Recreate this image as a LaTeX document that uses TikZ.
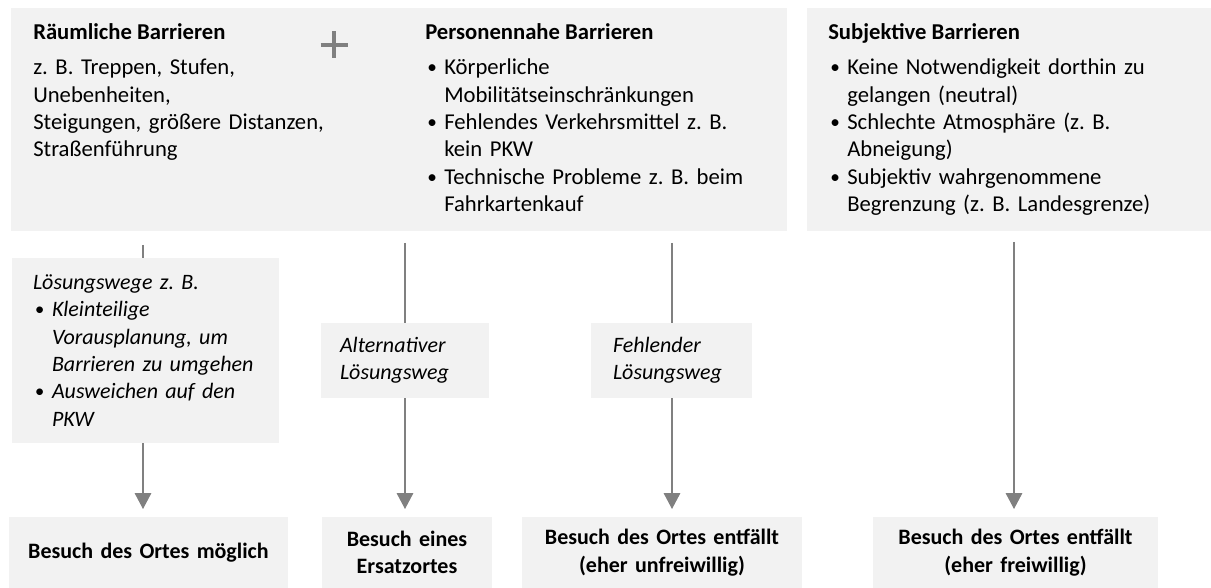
\documentclass[tikz,border=0pt]{standalone}
\usepackage{fontspec}
\setmainfont{Carlito}
\usetikzlibrary{positioning,arrows.meta}
\definecolor{feldgrau}{RGB}{242,242,242}
\definecolor{strichgrau}{RGB}{128,128,128}
\frenchspacing
\newlength{\pkteinzug}
\newlength{\pktabstand}
\setlength{\pkteinzug}{1.5pt}
\setlength{\pktabstand}{12.75pt}
\newcommand{\punkt}[1]{\noindent\hangindent=\dimexpr\pkteinzug+\pktabstand\relax\hangafter=1
  \hspace*{\pkteinzug}\makebox[\pktabstand][l]{\raisebox{0.1ex}{\scalebox{0.85}{\textbullet}}}#1\par}

\begin{document}
\begin{tikzpicture}[x=0.75pt,y=-0.75pt,font=\fontsize{17pt}{20.5pt}\selectfont]
    \tikzset{feld/.style={fill=feldgrau,inner sep=0pt,outer sep=0pt},
      titel/.style={anchor=base west,inner sep=0pt,font=\fontsize{17pt}{20.5pt}\selectfont\bfseries},
      liste/.style={anchor=base west,inner sep=0pt,text width=#1,align=left},
      weg/.style={feld,inner ysep=0pt,text width=#1,align=left,font=\fontsize{16.5pt}{20.5pt}\selectfont\itshape},
      ziel/.style={feld,minimum height=53.25pt,text width=#1,align=center,font=\fontsize{16.5pt}{20.5pt}\selectfont\bfseries},
      linie/.style={draw=strichgrau,line width=0.9pt},
      pfeil/.style={linie,-{Triangle[length=12pt,width=12.5pt]},shorten >=6pt},
      plus/.style={minimum size=20.25pt,inner sep=0pt,outer sep=0pt},
      plusstrich/.style={draw=strichgrau,line width=3pt}}
    \useasboundingbox (0,0) rectangle (1211,588);
    % Barrieren oben
    \node[feld,anchor=north west,minimum width=582pt,minimum height=167.25pt] (links) at (11,8) {};
    \node[feld,anchor=north west,minimum width=303pt,minimum height=167.25pt] (rechts) at (807,8) {};
    \node[titel] (raeum) at (33,40) {Räumliche Barrieren};
    \node[liste=255pt] (raeumtext) at (33,75) {z.~B. Treppen, Stufen,\newline
      Unebenheiten,\newline Steigungen, größere Distanzen,\newline Straßenführung};
    \node[plus] (plus) at (334,45) {};
    \draw[plusstrich] (plus.north) -- (plus.south) (plus.west) -- (plus.east);
    \node[titel] (person) at (425,40) {Personennahe Barrieren};
    \node[liste=255pt] (persontext) at (425,75) {%
      \punkt{Körperliche\newline Mobilitätseinschränkungen}%
      \punkt{Fehlendes Verkehrsmittel z.~B.\newline kein PKW}%
      \punkt{Technische Probleme z.~B. beim\newline Fahrkartenkauf}};
    \node[titel] (subj) at (828,40) {Subjektive Barrieren};
    \node[liste=270pt] (subjtext) at (828,75) {%
      \punkt{Keine Notwendigkeit dorthin zu\newline gelangen (neutral)}%
      \punkt{Schlechte Atmosphäre (z.~B.\newline Abneigung)}%
      \punkt{Subjektiv wahrgenommene\newline Begrenzung (z.~B. Landesgrenze)}};
    % Loesungswege
    \node[weg=168.75pt,inner xsep=15.75pt,minimum height=138.75pt,anchor=north west] (loes) at (12,258)
      {Lösungswege z.~B.\par
      \punkt{Kleinteilige\newline Vorausplanung, um\newline Barrieren zu umgehen}%
      \punkt{Ausweichen auf den\newline PKW}};
    \node[weg=97.5pt,inner xsep=14.25pt,minimum height=56.25pt] (alt) at (405,360.5) {Alternativer\\Lösungsweg};
    \node[weg=87.75pt,inner xsep=16.5pt,minimum height=56.25pt] (fehl) at (671.5,360.5) {Fehlender\\Lösungsweg};
    % Ergebnis
    \node[ziel=209.25pt] (ziel1) at (148.5,552.5) {Besuch des Ortes möglich};
    \node[ziel=127.5pt] (ziel2) at (407,552.5) {Besuch eines\\Ersatzortes};
    \node[ziel=210pt] (ziel3) at (662,552.5) {Besuch des Ortes entfällt\\(eher unfreiwillig)};
    \node[ziel=213.75pt] (ziel4) at (1015.5,552.5) {Besuch des Ortes entfällt\\(eher freiwillig)};
    \coordinate (s1) at (143,245);
    \coordinate (s2) at (405,243);
    \coordinate (s3) at (672,243);
    \coordinate (s4) at (1014,242);
    \draw[linie] (s1) -- (s1 |- loes.north);
    \draw[pfeil] (s1 |- loes.south) -- (s1 |- ziel1.north);
    \draw[linie] (s2) -- (alt.north);
    \draw[pfeil] (alt.south) -- (alt.south |- ziel2.north);
    \draw[linie] (s3) -- (s3 |- fehl.north);
    \draw[pfeil] (s3 |- fehl.south) -- (s3 |- ziel3.north);
    \draw[pfeil] (s4) -- (s4 |- ziel4.north);
\end{tikzpicture}
\end{document}
